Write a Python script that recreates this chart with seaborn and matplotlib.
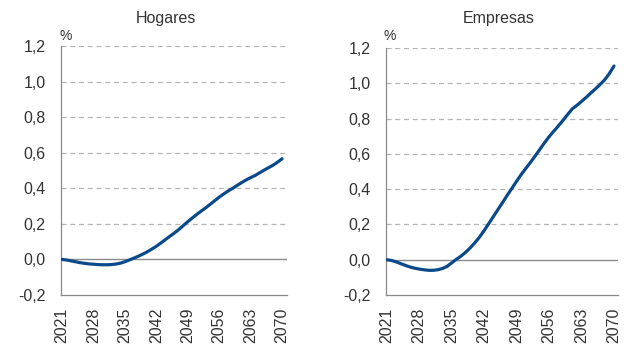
import matplotlib
matplotlib.use("Agg")
import matplotlib.pyplot as plt
import seaborn as sns
import pandas as pd

years = list(range(2021, 2071))

hogares = [
    0.000, -0.003, -0.008, -0.013, -0.018, -0.022, -0.025, -0.027, -0.029, -0.030,
    -0.030, -0.029, -0.026, -0.021, -0.013, -0.003, 0.007, 0.018, 0.030, 0.043,
    0.058, 0.074, 0.092, 0.111, 0.130, 0.148, 0.168, 0.190, 0.212, 0.233,
    0.253, 0.272, 0.290, 0.310, 0.330, 0.350, 0.368, 0.385, 0.400, 0.416,
    0.432, 0.447, 0.460, 0.472, 0.487, 0.502, 0.516, 0.530, 0.547, 0.566,
]

empresas = [
    0.000, -0.004, -0.012, -0.022, -0.032, -0.041, -0.048, -0.053, -0.057, -0.060,
    -0.060, -0.057, -0.050, -0.038, -0.018, 0.002, 0.020, 0.042, 0.067, 0.096,
    0.128, 0.165, 0.205, 0.245, 0.285, 0.325, 0.366, 0.405, 0.445, 0.483,
    0.518, 0.552, 0.588, 0.625, 0.662, 0.697, 0.728, 0.758, 0.790, 0.823,
    0.855, 0.875, 0.897, 0.920, 0.945, 0.968, 0.993, 1.020, 1.055, 1.098,
]

panel_titles = ["Hogares", "Empresas"]
x_ticks = [2021, 2028, 2035, 2042, 2049, 2056, 2063, 2070]
y_ticks = [-0.2, 0.0, 0.2, 0.4, 0.6, 0.8, 1.0, 1.2]
y_unit = "%"

sns.set_style("white")
plt.rcParams["font.family"] = ["Liberation Sans", "DejaVu Sans"]

TEXT = "#333333"
LINE = "#0b4a8a"
SPINE = "#8a8a8a"
GRID = "#b5b5b5"

fig = plt.figure(figsize=(6.27, 3.47), dpi=100)
axes_rects = [
    [61 / 627, 1 - 295 / 347, 226 / 627, 249 / 347],
    [385.7 / 627, 1 - 295 / 347, 232 / 627, 247 / 347],
]
title_x = [165.5 / 627, 498.5 / 627]
pct_x = [60 / 627, 384 / 627]
xlims = [(2020.78, 2071.1), (2020.78, 2070.8)]

for i, (rect, series) in enumerate(zip(axes_rects, [hogares, empresas])):
    ax = fig.add_axes(rect)
    df = pd.DataFrame({"year": years, "value": series})
    ax.axhline(0, color="#8c8c8c", lw=1.0, zorder=1)
    for yv in y_ticks[2:]:
        ax.axhline(yv, color=GRID, lw=0.9, ls=(0, (4, 3)), zorder=0)
    sns.lineplot(data=df, x="year", y="value", ax=ax, color=LINE, lw=2.3,
                 zorder=3, legend=False)
    ax.set_xlim(*xlims[i])
    ax.set_ylim(-0.2, 1.2)
    ax.set_xticks(x_ticks)
    ax.set_xticklabels([str(t) for t in x_ticks], rotation=90, fontsize=11.5,
                       color=TEXT)
    ax.set_yticks(y_ticks)
    ax.set_yticklabels([f"{v:.1f}".replace(".", ",") for v in y_ticks],
                       fontsize=11.5, color=TEXT)
    ax.tick_params(axis="x", direction="in", length=4, width=0.8,
                   color=SPINE, pad=9)
    ax.tick_params(axis="y", length=0, pad=11)
    ax.set_xlabel("")
    ax.set_ylabel("")
    for side in ["top", "right"]:
        ax.spines[side].set_visible(False)
    for side in ["left", "bottom"]:
        ax.spines[side].set_color(SPINE)
        ax.spines[side].set_linewidth(0.9)
    fig.text(title_x[i], 1 - 18 / 347, panel_titles[i], ha="center",
             va="center", fontsize=11.5, color=TEXT)
    fig.text(pct_x[i], 1 - 36 / 347, y_unit, ha="left", va="center",
             fontsize=10, color=TEXT)

fig.savefig("out.png", dpi=100)
